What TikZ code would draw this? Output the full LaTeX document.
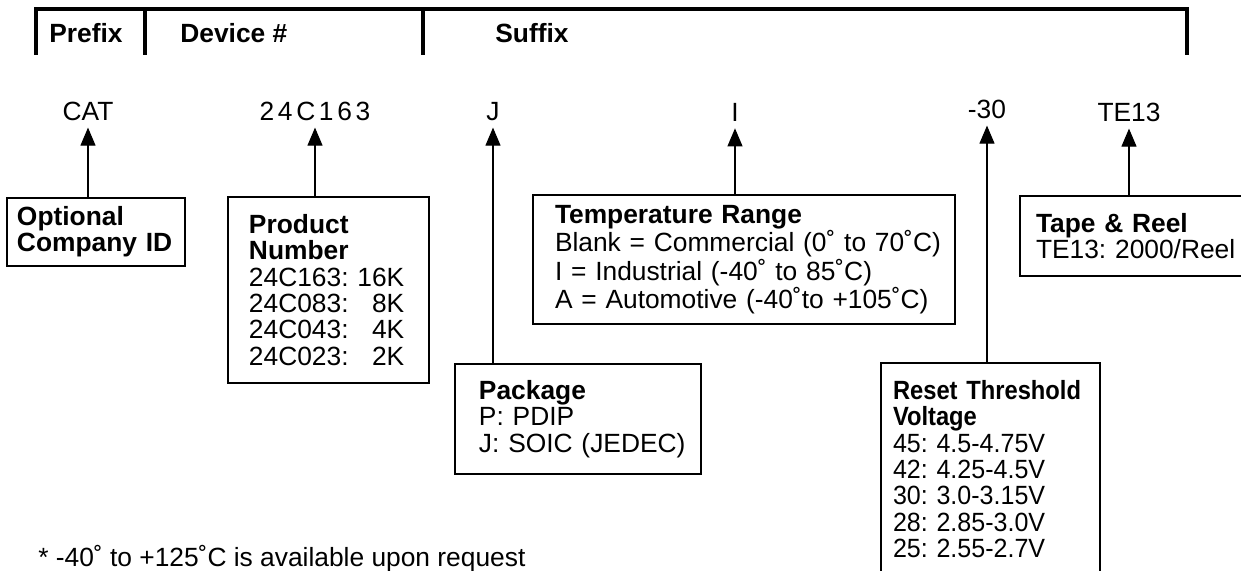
\documentclass[tikz,border=0pt]{standalone}
\usepackage{fontspec}
\setmainfont{Liberation Sans}
\frenchspacing
\hyphenpenalty=10000
\usetikzlibrary{arrows.meta}

\begin{document}
\begin{tikzpicture}[x=0.02cm,y=-0.02cm,
        font=\fontsize{15}{15}\selectfont,
        hdr/.style={line width=0.07cm},
        hd/.style={anchor=base west,inner sep=0pt,font=\fontsize{15}{15}\selectfont\bfseries},
        lbl/.style={anchor=base,inner xsep=0pt,inner ysep=0.12cm},
        box/.style={draw,line width=0.04cm,anchor=north west,align=left,inner ysep=0pt},
        arr/.style={line width=0.6pt,-{Triangle[length=0.36cm,width=0.3cm]}}]
        \useasboundingbox (0,0) rectangle (1241,571);
        \clip (0,0) rectangle (1241,571);

        % header bar
        \draw[hdr] (36,55) -- (36,9) -- (1187,9) -- (1187,55);
        \draw[hdr] (145,9) -- (145,55);
        \draw[hdr] (423,9) -- (423,55);
        \node[hd] (pre) at (49,43) {Prefix};
        \node[hd] (dev) at (180,43) {Device \#};
        \node[hd] (suf) at (495,43) {Suffix};

        % part number fields
        \node[lbl] (cat) at (88,121) {CAT};
        \node[lbl] (num) at (315,121) {\addfontfeature{LetterSpace=14}24C163};
        \node[lbl] (pkg) at (493,121) {J};
        \node[lbl] (tmp) at (735,122) {I};
        \node[lbl] (thr) at (987,119) {-30};
        \node[lbl] (tap) at (1129,122) {TE13};

        % description boxes
        \node[box,inner xsep=0.2cm,text width=3.16cm,minimum height=1.36cm] (co) at (6,197)
            {\textbf{Optional}\\\textbf{Company~ID}};
        \node[box,inner xsep=0.42cm,text width=3.18cm,minimum height=3.72cm] (pn) at (227,196)
            {\textbf{Product}\\\textbf{Number}\\24C163:~16K\\24C083:~\hphantom{1}8K\\24C043:~\hphantom{1}4K\\24C023:~\hphantom{1}2K};
        \node[box,inner xsep=0.48cm,text width=3.96cm,minimum height=2.2cm] (pk) at (454,363)
            {\textbf{Package}\\P:~PDIP\\J:~SOIC~(JEDEC)};
        \node[box,inner xsep=0.44cm,text width=7.56cm,minimum height=2.58cm] (tr) at (532,194)
            {\textbf{Temperature~Range}\\Blank~=~Commercial~(0˚~to~70˚C)\\I~=~Industrial~(-40˚~to~85˚C)\\A~=~Automotive~(-40˚to~+105˚C)};
        \node[box,inner xsep=0.32cm,text width=4.2cm,minimum height=1.6cm] (tt) at (1019,195)
            {\textbf{Tape~\&~Reel}\\TE13:~2000/Reel};
        \node[box,inner xsep=0.24cm,text width=3.9cm,minimum height=4.24cm] (rt) at (880,362)
            {\addfontfeature{FakeStretch=0.95}\textbf{\addfontfeature{FakeStretch=0.9}Reset~Threshold}\\\textbf{\addfontfeature{FakeStretch=0.9}Voltage}\\45:~4.5-4.75V\\42:~4.25-4.5V\\30:~3.0-3.15V\\28:~2.85-3.0V\\25:~2.55-2.7V};

        \draw[arr] (co.north -| cat.south) -- (cat.south);
        \draw[arr] (pn.north -| num.south) -- (num.south);
        \draw[arr] (pk.north -| pkg.south) -- (pkg.south);
        \draw[arr] (tr.north -| tmp.south) -- (tmp.south);
        \draw[arr] (rt.north -| thr.south) -- (thr.south);
        \draw[arr] (tt.north -| tap.south) -- (tap.south);

        \node[anchor=base west,inner sep=0pt] (note) at (38,566) {* -40˚ to +125˚C is available upon request};
    \end{tikzpicture}
\end{document}
